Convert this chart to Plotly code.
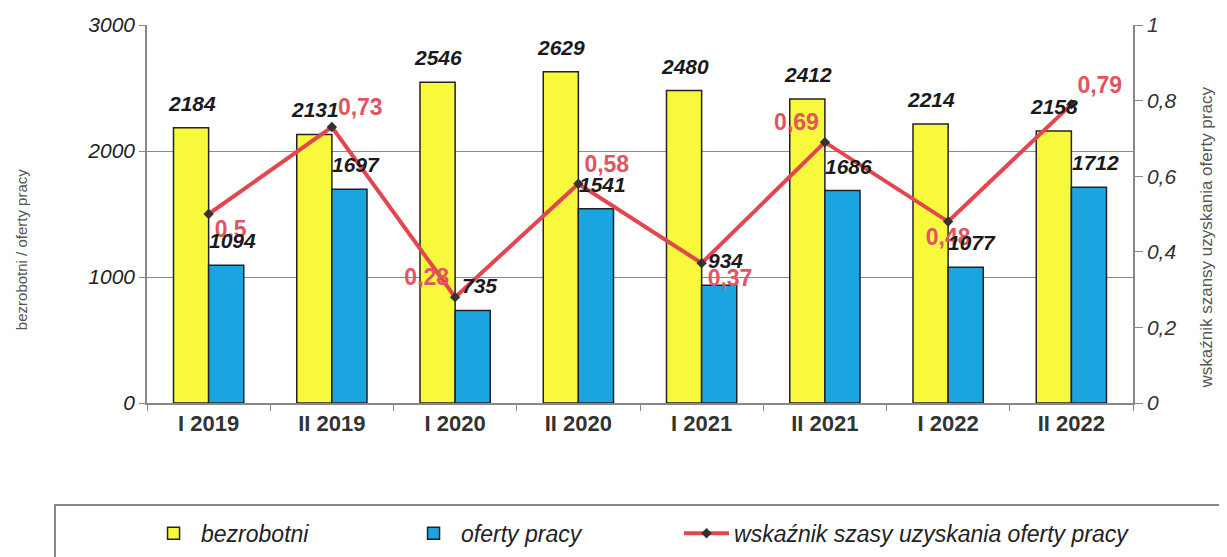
import plotly.graph_objects as go

categories = ["I 2019", "II 2019", "I 2020", "II 2020", "I 2021", "II 2021", "I 2022", "II 2022"]
bezrobotni = [2184, 2131, 2546, 2629, 2480, 2412, 2214, 2158]
oferty = [1094, 1697, 735, 1541, 934, 1686, 1077, 1712]
wskaznik = [0.5, 0.73, 0.28, 0.58, 0.37, 0.69, 0.48, 0.79]
wsk_pos = ["bottom right", "top right", "top left", "top right", "bottom right", "top left", "bottom center", "top right"]
left_ticks = [0, 1000, 2000, 3000]
right_ticks = [0, 0.2, 0.4, 0.6, 0.8, 1]

wsk_labels = [str(v).replace(".", ",") for v in wskaznik]
right_labels = [str(v).replace(".", ",") if v not in (0, 1) else str(int(v)) for v in right_ticks]

FONT = "Liberation Sans, Arial, sans-serif"
LABEL_FONT = dict(family=FONT, size=21, color="#1a1a1a", weight="bold", style="italic")
LEG_FONT = dict(family=FONT, size=23, style="italic", color="#222222")

fig = go.Figure()
fig.add_trace(go.Bar(
    x=categories, y=bezrobotni, name="bezrobotni", legend="legend",
    marker=dict(color="#F8F83C", line=dict(color="#222222", width=1.5)),
))
fig.add_trace(go.Bar(
    x=categories, y=oferty, name="oferty pracy", legend="legend2",
    marker=dict(color="#1BA5E0", line=dict(color="#222222", width=1.5)),
))
fig.add_trace(go.Scatter(
    x=categories, y=wskaznik, name="wskaźnik szasy uzyskania oferty pracy", legend="legend3",
    yaxis="y2", mode="lines+markers+text",
    line=dict(color="#E2474E", width=4),
    marker=dict(symbol="diamond", size=8, color="#333333"),
    text=wsk_labels, textposition=wsk_pos,
    textfont=dict(family=FONT, size=23, color="#E05560", weight="bold"),
    cliponaxis=False,
))

annotations = []
for cat, v in zip(categories, bezrobotni):
    annotations.append(dict(x=cat, y=v, xref="x", yref="y", text=str(v), showarrow=False,
                            xshift=-17, yshift=11, yanchor="bottom", font=LABEL_FONT))
for cat, v in zip(categories, oferty):
    annotations.append(dict(x=cat, y=v, xref="x", yref="y", text=str(v), showarrow=False,
                            xshift=24, yshift=11, yanchor="bottom", font=LABEL_FONT))
annotations.append(dict(x=-0.1278, y=0.407, xref="paper", yref="paper", showarrow=False,
                        text="bezrobotni / oferty pracy", textangle=-90,
                        xanchor="center", yanchor="middle",
                        font=dict(family=FONT, size=15, color="#555555")))
annotations.append(dict(x=1.0745, y=0.439, xref="paper", yref="paper", showarrow=False,
                        text="wskaźnik szansy uzyskania oferty pracy", textangle=-90,
                        xanchor="center", yanchor="middle",
                        font=dict(family=FONT, size=17, color="#555555")))

def leg(x):
    return dict(orientation="h", x=x, xanchor="left", xref="container",
                y=0.057, yanchor="middle", yref="container",
                font=LEG_FONT, bgcolor="rgba(0,0,0,0)", itemwidth=45)

fig.update_layout(
    width=1227, height=557,
    margin=dict(l=139, r=102, t=17, b=162, autoexpand=False),
    paper_bgcolor="white", plot_bgcolor="white",
    barmode="group", bargap=0.43, bargroupgap=0,
    font=dict(family=FONT, color="#222222"),
    showlegend=True,
    annotations=annotations,
    legend=leg(0.1125),
    legend2=leg(0.3244),
    legend3=leg(0.5469),
    xaxis=dict(
        tickfont=dict(family=FONT, size=22, color="#333333", weight="bold"),
        showline=True, linecolor="#888888", linewidth=1.5,
        ticks="outside", tickson="boundaries", ticklen=6, tickcolor="#888888",
        showgrid=False,
    ),
    yaxis=dict(
        range=[0, 3000], tickvals=left_ticks, ticktext=[str(v) for v in left_ticks],
        tickfont=dict(family=FONT, size=21, color="#222222", style="italic"),
        showline=True, linecolor="#888888", linewidth=1.5,
        ticks="outside", ticklen=6, tickcolor="#888888",
        showgrid=True, gridcolor="#8a8a8a", gridwidth=1.2,
        zeroline=False,
    ),
    yaxis2=dict(
        range=[0, 1], overlaying="y", side="right",
        tickvals=right_ticks, ticktext=right_labels,
        tickfont=dict(family=FONT, size=21, color="#333333", style="italic"),
        showline=True, linecolor="#888888", linewidth=1.5,
        ticks="outside", ticklen=8, tickcolor="#888888",
        showgrid=False, zeroline=False,
    ),
    shapes=[dict(type="rect", xref="paper", yref="paper",
                 x0=-0.0933, x1=1.12, y0=-0.27, y1=-0.5,
                 line=dict(color="#888888", width=2), fillcolor="rgba(0,0,0,0)")],
)

fig.write_html("out.html")
